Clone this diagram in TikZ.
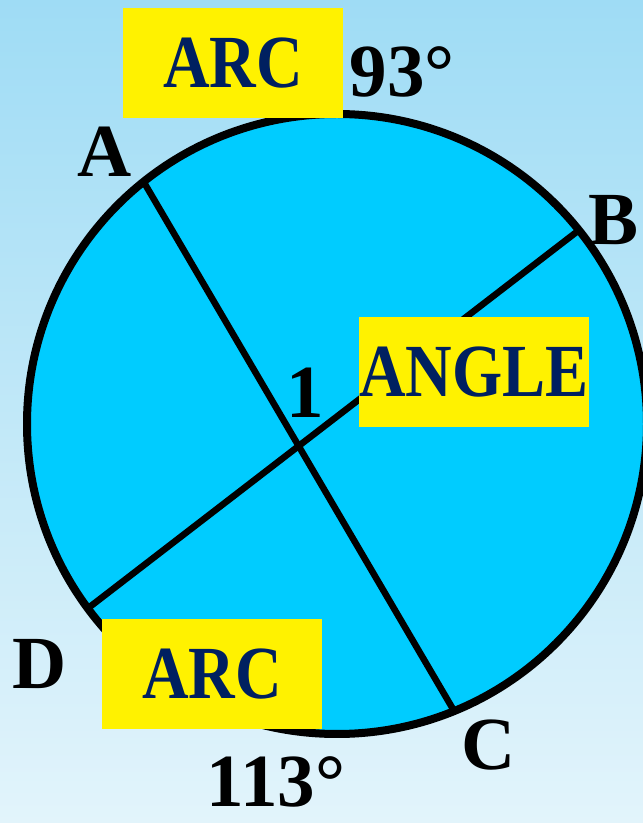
\documentclass[tikz,border=0pt]{standalone}
\usepackage{fontspec}
\setmainfont{Liberation Serif}
\newfontfamily\boxfont[FakeStretch=0.86]{Liberation Serif}
\usetikzlibrary{calc}
\definecolor{bgtop}{HTML}{9FDCF5}
\definecolor{bgbot}{HTML}{E2F4FB}
\definecolor{disk}{HTML}{00CCFF}
\definecolor{navy}{HTML}{002060}

\begin{document}
\begin{tikzpicture}[x=1pt, y=1pt,
    box/.style={fill=yellow, text=navy, minimum width=220pt, minimum height=110pt,
        inner sep=0pt, font=\boxfont\bfseries\fontsize{75}{80}\selectfont},
    lbl/.style={inner sep=0pt, font=\bfseries\fontsize{75}{80}\selectfont}]
    % параметры
    \def\R{310}     % радиус окружности
    \def\LW{8pt}    % толщина окружности
    \def\CW{6.5pt}  % толщина хорд

    % фон
    \shade[top color=bgtop, bottom color=bgbot] (0,0) rectangle (643,823);
    \useasboundingbox (0,0) rectangle (643,823);

    % окружность и точки на ней
    \coordinate (O) at (337,399);
    \draw[line width=\LW, fill=disk] (O) circle[radius=\R];
    \path (O) ++(128.6:\R) coordinate (A);
    \path (O) ++(38.7:\R)  coordinate (B);
    \path (O) ++(-67.8:\R) coordinate (C);
    \path (O) ++(216.5:\R) coordinate (D);

    % хорды
    \draw[line width=\CW] (A) -- (C);
    \draw[line width=\CW] (B) -- (D);

    % подписи
    \node[lbl] (labA) at (105,671) {A};
    \node[lbl] (labB) at (614,603) {B};
    \node[lbl] (labC) at (489,78)  {C};
    \node[lbl] (labD) at (40,159)  {D};
    \node[lbl] (one)  at (305,430) {1};
    \node[lbl] (deg93)  at (402,751) {93°};
    \node[lbl] (deg113) at (276,41)  {113°};

    % жёлтые плашки
    \node[box] (arctop) at (233,760) {ARC};
    \node[box] (angle)  at (474,451) {ANGLE};
    \node[box] (arcbot) at (212,149) {ARC};
\end{tikzpicture}
\end{document}
